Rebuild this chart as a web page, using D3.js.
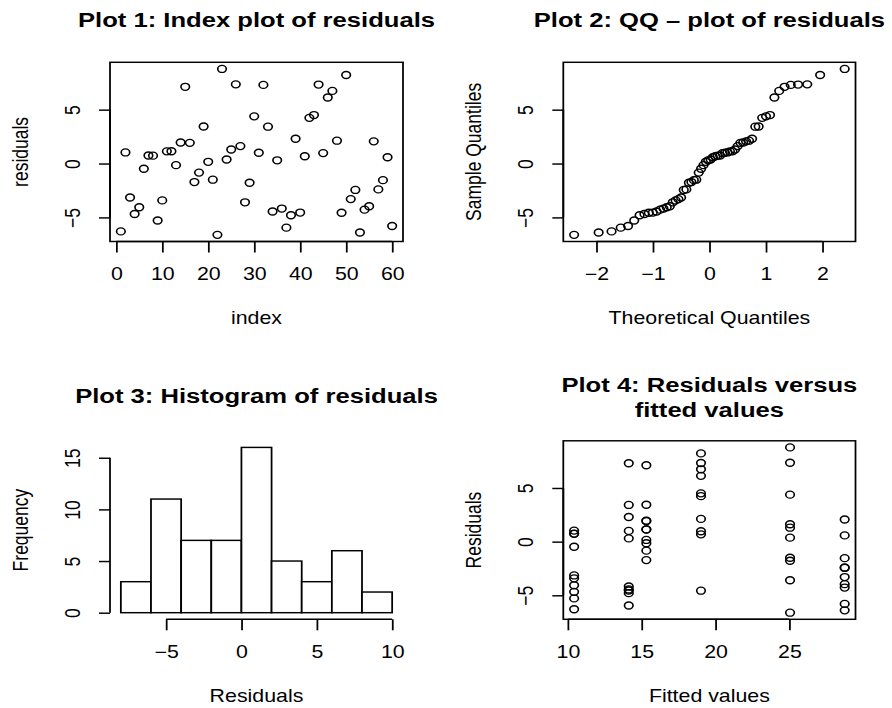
<!DOCTYPE html>
<html lang="en">

<head>
    <meta charset="UTF-8">
    <title>Residual diagnostics</title>
    <script src="https://cdn.jsdelivr.net/npm/d3@7"></script>
    <style>
        body { margin: 0; background: #fff; }
        svg text { font-family: "Liberation Sans", Arial, sans-serif; fill: #000; }
    </style>
</head>

<body>
    <svg></svg>
</body>
<script>
    const residuals = [
        -6.30, 1.03, -3.15, -4.68, -4.06, -0.48, 0.75, 0.73, -5.29, -3.42,
        1.13, 1.14, -0.15, 1.95, 7.12, 1.92, -1.72, -0.84, 3.44, 0.16,
        -1.50, -6.62, 8.78, 0.37, 1.30, 7.35, 1.62, -3.60, -1.78, 4.38,
        1.00, 7.30, 3.42, -4.45, 0.30, -4.18, -5.95, -4.80, 2.30, -4.55,
        0.68, 4.24, 4.50, 7.33, 0.97, 6.13, 6.74, 2.12, -4.57, 8.22,
        -3.30, -2.45, -6.40, -4.28, -3.96, 2.06, -2.40, -1.54, 0.58, -5.80
    ];

    const fitted = [
        10.43, 10.43, 10.43, 10.43, 10.43, 10.43, 10.43, 10.43, 10.43, 10.43,
        15.32, 15.32, 15.32, 15.32, 15.32, 15.32, 15.32, 15.32, 15.32, 15.32,
        25.05, 25.05, 25.05, 25.05, 25.05, 25.05, 25.05, 25.05, 25.05, 25.05,
        14.13, 14.13, 14.13, 14.13, 14.13, 14.13, 14.13, 14.13, 14.13, 14.13,
        19.02, 19.02, 19.02, 19.02, 19.02, 19.02, 19.02, 19.02, 19.02, 19.02,
        28.75, 28.75, 28.75, 28.75, 28.75, 28.75, 28.75, 28.75, 28.75, 28.75
    ];

    const histBreaks = [-8, -6, -4, -2, 0, 2, 4, 6, 8, 10];

    const ticksIndex = [0, 10, 20, 30, 40, 50, 60];
    const ticksResid = [-5, 0, 5];
    const ticksTheo = [-2, -1, 0, 1, 2];
    const ticksHistX = [-5, 0, 5, 10];
    const ticksHistY = [0, 5, 10, 15];
    const ticksFitted = [10, 15, 20, 25];

    const width = 892, height = 708;
    const sx = 1.22;            // the reference is stretched sideways, so draw narrow and let the viewBox widen it
    const fontBase = 17.5, fontTitle = 21;
    const lw = 1.45;            // line width
    const fmt = d3.format('d');

    const svg = d3.select('svg')
        .attr('width', width)
        .attr('height', height)
        .attr('viewBox', `0 0 ${width / sx} ${height}`)
        .attr('preserveAspectRatio', 'none');

    // R pads the data range by 4% on each side
    const pad = ([a, b]) => [a - 0.04 * (b - a), b + 0.04 * (b - a)];

    // inverse normal cdf (Acklam), for the QQ plot
    function qnorm(p) {
        const a = [-39.69683028665376, 220.9460984245205, -275.9285104469687, 138.3577518672690, -30.66479806614716, 2.506628277459239];
        const b = [-54.47609879822406, 161.5858368580409, -155.6989798598866, 66.80131188771972, -13.28068155288572];
        const c = [-0.007784894002430293, -0.3223964580411365, -2.400758277161838, -2.549732539343734, 4.374664141464968, 2.938163982698783];
        const d = [0.007784695709041462, 0.3224671290700398, 2.445134137142996, 3.754408661907416];
        const pl = 0.02425;
        if (p < pl) {
            const q = Math.sqrt(-2 * Math.log(p));
            return (((((c[0] * q + c[1]) * q + c[2]) * q + c[3]) * q + c[4]) * q + c[5]) / ((((d[0] * q + d[1]) * q + d[2]) * q + d[3]) * q + 1);
        }
        if (p > 1 - pl) return -qnorm(1 - p);
        const q = p - 0.5, r = q * q;
        return (((((a[0] * r + a[1]) * r + a[2]) * r + a[3]) * r + a[4]) * r + a[5]) * q / (((((b[0] * r + b[1]) * r + b[2]) * r + b[3]) * r + b[4]) * r + 1);
    }

    // one panel: box is in screen pixels, x gets divided by sx
    function panel(box, o) {
        const g = svg.append('g');
        const x = d3.scaleLinear().domain(o.xDomain).range([box.x0 / sx, box.x1 / sx]);
        const y = d3.scaleLinear().domain(o.yDomain).range([box.y1, box.y0]);
        const left = box.x0 / sx, right = box.x1 / sx;

        // x axis, line only between first and last tick like R
        const ax = g.append('g')
            .attr('transform', `translate(0,${box.y1})`)
            .call(d3.axisBottom(x).tickValues(o.xTicks).tickFormat(fmt).tickSize(11).tickSizeOuter(0));
        ax.select('.domain').remove();
        ax.attr('font-size', fontBase);
        ax.selectAll('line').attr('stroke-width', lw);
        ax.selectAll('text').attr('y', 39).attr('dy', null);
        ax.append('line')
            .attr('x1', x(o.xTicks[0])).attr('x2', x(o.xTicks[o.xTicks.length - 1]))
            .attr('stroke', '#000').attr('stroke-width', lw);

        // y axis, labels turned parallel to the axis
        const ay = g.append('g')
            .attr('transform', `translate(${left},0)`)
            .call(d3.axisLeft(y).tickValues(o.yTicks).tickFormat(fmt).tickSize(11 / sx).tickSizeOuter(0));
        ay.select('.domain').remove();
        ay.attr('font-size', fontBase);
        ay.selectAll('line').attr('stroke-width', lw);
        ay.selectAll('text')
            .attr('x', null).attr('dy', null)
            .attr('text-anchor', 'middle')
            .attr('transform', `translate(${-30 / sx},0) rotate(-90)`);
        ay.append('line')
            .attr('y1', y(o.yTicks[0])).attr('y2', y(o.yTicks[o.yTicks.length - 1]))
            .attr('stroke', '#000').attr('stroke-width', lw);

        if (o.box) {
            g.append('rect')
                .attr('x', left).attr('y', box.y0)
                .attr('width', right - left).attr('height', box.y1 - box.y0)
                .attr('fill', 'none').attr('stroke', '#000').attr('stroke-width', lw);
        }

        // titles
        const cx = (left + right) / 2;
        o.title.forEach((t, i) => {
            g.append('text')
                .attr('x', cx).attr('y', o.titleY[i])
                .attr('text-anchor', 'middle')
                .attr('font-size', fontTitle).attr('font-weight', 'bold')
                .text(t);
        });
        g.append('text')
            .attr('x', cx).attr('y', box.y1 + 82.5)
            .attr('text-anchor', 'middle').attr('font-size', fontBase)
            .text(o.xlab);
        g.append('text')
            .attr('transform', `translate(${left - 82 / sx},${(box.y0 + box.y1) / 2}) rotate(-90)`)
            .attr('text-anchor', 'middle').attr('font-size', fontBase)
            .text(o.ylab);

        return { g, x, y };
    }

    function points(p, data) {
        p.g.append('g')
            .selectAll('circle')
            .data(data)
            .join('circle')
            .attr('cx', d => p.x(d[0]))
            .attr('cy', d => p.y(d[1]))
            .attr('r', 3.5)
            .attr('fill', 'none')
            .attr('stroke', '#000')
            .attr('stroke-width', 1.35);
    }

    const residRange = pad(d3.extent(residuals));

    // Plot 1: index plot
    const p1 = panel({ x0: 110, x1: 403, y0: 62.3, y1: 241.5 }, {
        xDomain: pad([1, residuals.length]), yDomain: residRange,
        xTicks: ticksIndex, yTicks: ticksResid, box: true,
        title: ['Plot 1: Index plot of residuals'], titleY: [26.7],
        xlab: 'index', ylab: 'residuals'
    });
    points(p1, residuals.map((r, i) => [i + 1, r]));

    // Plot 2: normal QQ plot
    const n = residuals.length;
    const sorted = residuals.slice().sort(d3.ascending);
    const theo = sorted.map((r, i) => qnorm((i + 0.5) / n));
    const p2 = panel({ x0: 563.3, x1: 855.5, y0: 62.3, y1: 241.5 }, {
        xDomain: pad(d3.extent(theo)), yDomain: residRange,
        xTicks: ticksTheo, yTicks: ticksResid, box: true,
        title: ['Plot 2: QQ \u2013 plot of residuals'], titleY: [27],
        xlab: 'Theoretical Quantiles', ylab: 'Sample Quantiles'
    });
    points(p2, sorted.map((r, i) => [theo[i], r]));

    // Plot 3: histogram
    const bins = d3.bin()
        .domain([histBreaks[0], histBreaks[histBreaks.length - 1]])
        .thresholds(histBreaks.slice(1, -1))(residuals);
    const p3 = panel({ x0: 110, x1: 403, y0: 440.8, y1: 619.3 }, {
        xDomain: pad([histBreaks[0], histBreaks[histBreaks.length - 1]]),
        yDomain: pad([0, d3.max(bins, b => b.length)]),
        xTicks: ticksHistX, yTicks: ticksHistY, box: false,
        title: ['Plot 3: Histogram of residuals'], titleY: [403.3],
        xlab: 'Residuals', ylab: 'Frequency'
    });
    p3.g.append('g')
        .selectAll('rect')
        .data(bins)
        .join('rect')
        .attr('x', b => p3.x(b.x0))
        .attr('width', b => p3.x(b.x1) - p3.x(b.x0))
        .attr('y', b => p3.y(b.length))
        .attr('height', b => p3.y(0) - p3.y(b.length))
        .attr('fill', '#fff')
        .attr('stroke', '#000')
        .attr('stroke-width', lw);

    // Plot 4: residuals against fitted values
    const p4 = panel({ x0: 563.3, x1: 855.5, y0: 440.8, y1: 619.3 }, {
        xDomain: pad(d3.extent(fitted)), yDomain: residRange,
        xTicks: ticksFitted, yTicks: ticksResid, box: true,
        title: ['Plot 4: Residuals versus', 'fitted values'], titleY: [391.7, 416.7],
        xlab: 'Fitted values', ylab: 'Residuals'
    });
    points(p4, residuals.map((r, i) => [fitted[i], r]));
</script>

</html>
